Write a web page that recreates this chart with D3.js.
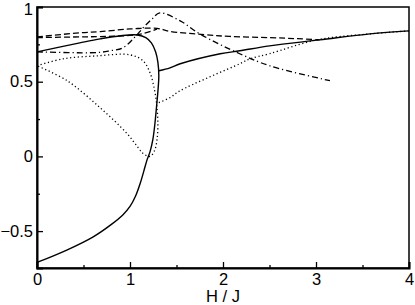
<!DOCTYPE html>
<html lang="en">
  <head>
    <meta charset="UTF-8" />
    <title>H / J</title>
    <style>
      body { margin: 0; background: #fff; }
      #viz text { font-family: "Liberation Sans", Arial, sans-serif; font-size: 16.5px; fill: #000; }
    </style>
  </head>
  <body>
    <div id="viz"></div>
    <script src="https://cdnjs.cloudflare.com/ajax/libs/d3/7.8.5/d3.min.js"></script>
    <script>
      // values
      let xTicks = [0, 1, 2, 3, 4],
          yTicks = [-0.5, 0, 0.5, 1];

      // solid loop (lower branch up, turning back at the top)
      let solidLoopH = [0, 0.32, 0.6, 0.8, 0.925, 1.0, 1.06, 1.11, 1.15, 1.185, 1.215, 1.245, 1.268, 1.285, 1.302, 1.31, 1.3, 1.275, 1.23, 1.17, 1.08, 0.9, 0.68, 0.46, 0],
          solidLoopM = [-0.71, -0.627, -0.54, -0.455, -0.39, -0.335, -0.265, -0.18, -0.095, -0.02, 0.03, 0.11, 0.22, 0.33, 0.45, 0.54, 0.63, 0.7, 0.76, 0.795, 0.813, 0.808, 0.787, 0.76, 0.70];
      // solid upper branch
      let solidH = [1.31, 1.43, 1.54, 1.97, 2.18, 2.5, 3.04, 3.58, 4.0],
          solidM = [0.573, 0.593, 0.62, 0.687, 0.707, 0.74, 0.78, 0.82, 0.84];

      // dotted loop
      let dotLoopH = [0, 0.28, 0.645, 1.0, 1.14, 1.215, 1.265, 1.29, 1.3, 1.29, 1.265, 1.215, 1.14, 1.086, 0.968, 0.677, 0.323, 0],
          dotLoopM = [0.607, 0.653, 0.673, 0.68, 0.64, 0.56, 0.44, 0.33, 0.2, 0.11, 0.04, 0.0, 0.02, 0.06, 0.153, 0.327, 0.507, 0.607];
      // dotted upper branch
      let dotH = [1.31, 1.43, 1.54, 2.18, 2.29, 2.5, 3.01, 3.58, 4.0],
          dotM = [0.36, 0.393, 0.44, 0.62, 0.653, 0.687, 0.78, 0.82, 0.84];

      // dashed
      let dashUpH = [0, 0.46, 0.68, 1.0, 1.29, 1.43, 1.8, 2.07, 2.5, 2.8, 3.04],
          dashUpM = [0.8, 0.827, 0.835, 0.853, 0.857, 0.837, 0.815, 0.803, 0.795, 0.788, 0.78];
      let dashLowH = [0, 0.46, 0.68, 1.0, 1.14, 1.29],
          dashLowM = [0.795, 0.8, 0.802, 0.81, 0.822, 0.852];

      // dash-dot
      let dashDotH = [0, 0.645, 0.785, 0.925, 1.054, 1.14, 1.237, 1.32, 1.54, 1.75, 2.18, 2.5, 3.15],
          dashDotM = [0.70, 0.695, 0.707, 0.727, 0.80, 0.86, 0.92, 0.96, 0.907, 0.82, 0.687, 0.607, 0.507];

      let margin = { top: 7, right: 6, bottom: 37, left: 37 },
          width = 415,
          height = 305,
          widthr = width - margin.left - margin.right,
          heightr = height - margin.top - margin.bottom;

      let svg = d3.select("#viz")
        .append("svg")
        .attr("width", width)
        .attr("height", height)
        .append("g")
        .attr("transform", `translate(${margin.left}, ${margin.top})`);

      let x = d3.scaleLinear().domain([0, 4]).range([0, widthr]);
      let y = d3.scaleLinear().domain([-0.747, 1]).range([heightr, 0]);

      let line = d3.line()
        .x(d => x(d[0]))
        .y(d => y(d[1]))
        .curve(d3.curveCatmullRom.alpha(0.5));

      let curves = [
        { h: solidLoopH, m: solidLoopM, dash: null, w: 1.4 },
        { h: solidH, m: solidM, dash: null, w: 1.4 },
        { h: dotLoopH, m: dotLoopM, dash: "1.2,2.6", w: 1.3 },
        { h: dotH, m: dotM, dash: "1.2,2.6", w: 1.3 },
        { h: dashUpH, m: dashUpM, dash: "6,3", w: 1.3 },
        { h: dashLowH, m: dashLowM, dash: "6,3", w: 1.3 },
        { h: dashDotH, m: dashDotM, dash: "6,3,1.2,3", w: 1.3 }
      ];

      svg.selectAll(".curve")
        .data(curves)
        .join("path")
        .attr("class", "curve")
        .attr("d", c => line(d3.zip(c.h, c.m)))
        .attr("fill", "none")
        .attr("stroke", "#000")
        .attr("stroke-width", c => c.w)
        .attr("stroke-dasharray", c => c.dash);

      // frame
      svg.append("rect")
        .attr("width", widthr)
        .attr("height", heightr)
        .attr("fill", "none")
        .attr("stroke", "#000")
        .attr("stroke-width", 1.5);

      // minor ticks
      svg.append("g")
        .attr("transform", `translate(0, ${heightr})`)
        .call(d3.axisBottom(x).tickValues(d3.range(0.5, 4, 1)).tickSize(-3).tickFormat(""))
        .call(g => g.select(".domain").remove());
      svg.append("g")
        .call(d3.axisLeft(y).tickValues([-0.25, 0.25, 0.75]).tickSize(-3).tickFormat(""))
        .call(g => g.select(".domain").remove());

      // major ticks
      svg.append("g")
        .attr("transform", `translate(0, ${heightr})`)
        .call(d3.axisBottom(x).tickValues(xTicks).tickSize(-6).tickPadding(5).tickFormat(d3.format("d")))
        .call(g => g.select(".domain").attr("stroke-width", 2));
      svg.append("g")
        .call(d3.axisLeft(y).tickValues(yTicks).tickSize(-6).tickPadding(4).tickFormat(d => d === 0 || d === 1 ? d3.format("d")(d) : d3.format(".1f")(d)))
        .call(g => g.select(".domain").attr("stroke-width", 2))
        .call(g => g.selectAll(".tick text").filter(d => d === 1).attr("dy", "0.45em"));

      svg.selectAll(".tick line").attr("stroke-width", 1.3);
      svg.selectAll(".tick text").attr("font-family", null).attr("font-size", null);

      svg.append("text")
        .attr("x", x(2))
        .attr("y", heightr + 34)
        .attr("text-anchor", "middle")
        .text("H / J");
    </script>
  </body>
</html>
